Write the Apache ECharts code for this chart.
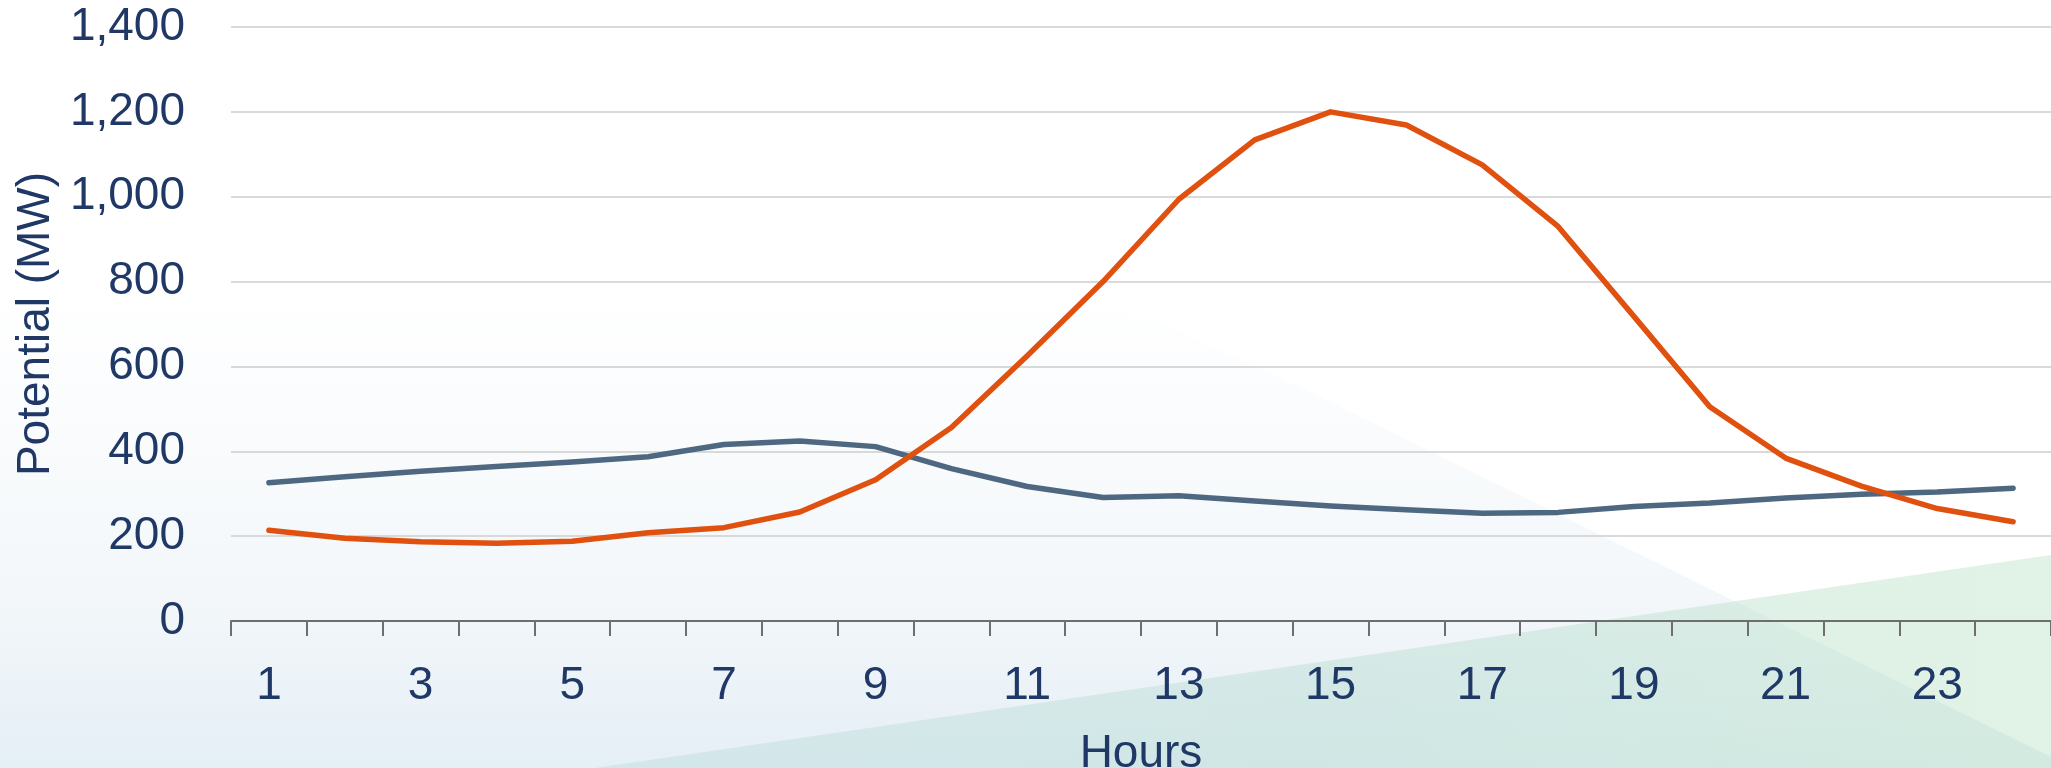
<!DOCTYPE html>
<html>
<head>
<meta charset="utf-8">
<script src="https://cdn.jsdelivr.net/npm/echarts@6/dist/echarts.min.js"></script>
<style>
html,body{margin:0;padding:0;background:#fff;}
#chart{width:2051px;height:768px;}
</style>
</head>
<body>
<div id="chart"></div>
<script>
const hours = ['1','2','3','4','5','6','7','8','9','10','11','12','13','14','15','16','17','18','19','20','21','22','23','24'];
const orangeSeries = [214,195,187,183,188,208,220,257,333,456,625,800,994,1134,1200,1169,1075,930,718,505,384,318,265,234];
const blueSeries = [326,340,353,364,375,387,416,424,411,359,317,291,295,283,271,262,254,256,270,278,290,299,304,313];
const yTicks = {min:0, max:1400, interval:200};

const textColor = '#1f3866';
const font = 'Liberation Sans, Arial, sans-serif';

const chart = echarts.init(document.getElementById('chart'));
const W = 2051, H = 768;
chart.setOption({
  backgroundColor: 'transparent',
  graphic: [
    { type:'rect', z:-10, silent:true, shape:{x:0,y:0,width:W,height:H},
      style:{fill:{type:'linear',x:0,y:0,x2:0,y2:1,colorStops:[
        {offset:0,color:'#ffffff'},{offset:0.38,color:'#ffffff'},{offset:0.78,color:'#f3f7fa'},{offset:1,color:'#e5eff6'}]}}},
    { type:'polygon', z:-9, silent:true,
      shape:{points:[[950,0],[W,0],[W,757],[1300,387],[1160,322],[1020,285]]},
      style:{fill:'#ffffff'}},
    { type:'polygon', z:-8, silent:true,
      shape:{points:[[595,H],[W,555],[W,H]]},
      style:{fill:{type:'linear',x:0,y:0,x2:1,y2:0,colorStops:[
        {offset:0,color:'rgba(178,216,214,0.35)'},{offset:0.5,color:'rgba(182,220,208,0.45)'},{offset:1,color:'rgba(188,228,198,0.45)'}]}}}
  ],
  grid: {left:231, right:0, top:27, bottom:147, containLabel:false, outerBoundsMode:'none'},
  xAxis: {
    type:'category', data:hours, boundaryGap:true,
    name:'Hours', nameLocation:'middle', nameGap:110,
    nameTextStyle:{color:textColor, fontSize:46, fontFamily:font},
    axisLine:{show:true, lineStyle:{color:'#6e6e6e', width:2}},
    axisTick:{show:true, interval:0, length:15, lineStyle:{color:'#6e6e6e', width:2}},
    axisLabel:{interval:1, margin:42, color:textColor, fontSize:46, fontFamily:font},
    splitLine:{show:false}
  },
  yAxis: {
    type:'value', min:yTicks.min, max:yTicks.max, interval:yTicks.interval,
    name:'Potential (MW)', nameLocation:'middle', nameGap:168,
    nameTextStyle:{color:textColor, fontSize:46, fontFamily:font},
    axisLine:{show:false}, axisTick:{show:false},
    axisLabel:{margin:46, color:textColor, fontSize:46, fontFamily:font,
      formatter:v=>v.toLocaleString('en-US')},
    splitLine:{show:true, lineStyle:{color:'#d9d9d9', width:2}}
  },
  series: [
    {name:'Series 1', type:'line', data:blueSeries, symbol:'none', smooth:false,
      lineStyle:{color:'#4e6882', width:5.5, cap:'round', join:'round'}, z:3},
    {name:'Series 2', type:'line', data:orangeSeries, symbol:'none', smooth:false,
      lineStyle:{color:'#e0500e', width:5.5, cap:'round', join:'round'}, z:4}
  ],
  animation:false
});
</script>
</body>
</html>
